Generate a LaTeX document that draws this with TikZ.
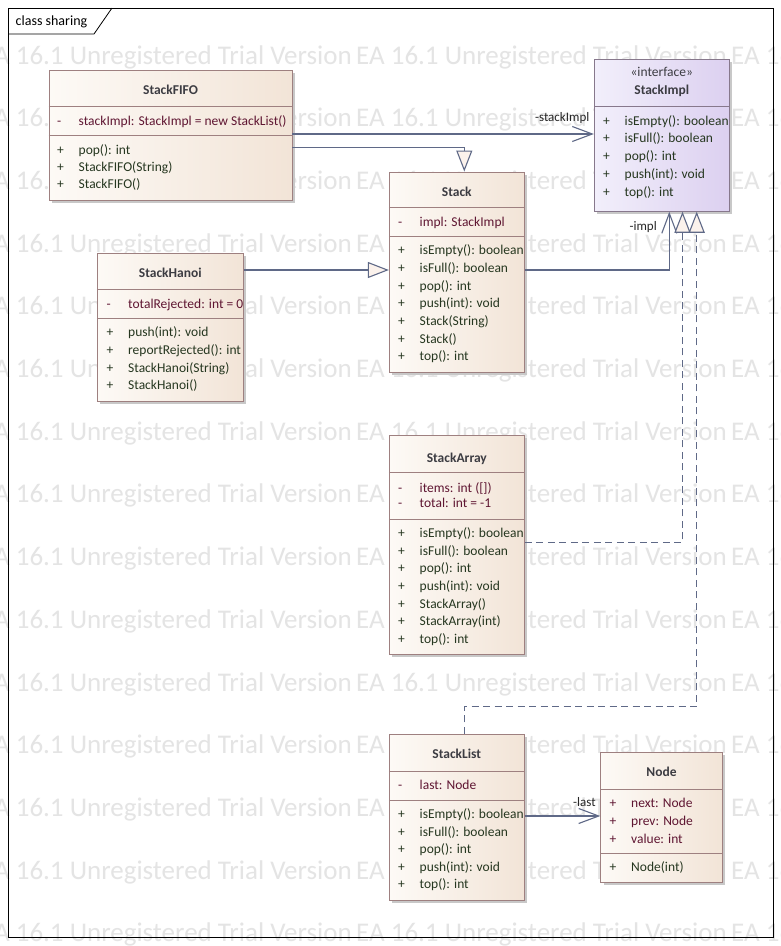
\documentclass[tikz,border=0pt]{standalone}
\usepackage{fontspec}
\setmainfont{Carlito}
\usetikzlibrary{arrows.meta,shadows,positioning}

\definecolor{umlline}{RGB}{95,105,135}
\definecolor{umlborder}{RGB}{158,128,128}
\definecolor{ifaceborder}{RGB}{135,120,140}
\definecolor{classleft}{RGB}{253,250,246}
\definecolor{classright}{RGB}{242,228,215}
\definecolor{ifaceleft}{RGB}{242,239,251}
\definecolor{ifaceright}{RGB}{220,208,240}
\definecolor{attrtext}{RGB}{95,22,50}
\definecolor{optext}{RGB}{38,55,32}
\definecolor{nametext}{RGB}{60,60,66}
\definecolor{tipfill}{RGB}{251,242,236}
\definecolor{shadowgray}{RGB}{200,200,200}
\definecolor{wmgray}{RGB}{228,228,228}

\newcommand\vis[1]{\makebox[21.5pt][l]{#1}}

\tikzset{
  umlclass/.style={draw=umlborder, line width=0.9pt, left color=classleft, right color=classright,
    inner sep=0pt, drop shadow={shadow xshift=3pt, shadow yshift=-3pt, fill=shadowgray, opacity=1}},
  umliface/.style={umlclass, draw=ifaceborder, left color=ifaceleft, right color=ifaceright},
  divider/.style={draw=umlborder, line width=0.9pt},
  clsname/.style={anchor=base, inner sep=0pt, text=nametext, font=\fontsize{13.5}{16}\selectfont\bfseries},
  stereo/.style={clsname, font=\fontsize{13.5}{16}\selectfont},
  attr/.style={anchor=base west, inner sep=0pt, text=attrtext, font=\fontsize{13.5}{16}\selectfont},
  oper/.style={attr, text=optext},
  assoc/.style={draw=umlline, line width=1.1pt, -{Straight Barb[length=20pt, width=15pt]}},
  gen/.style={draw=umlline, line width=1.1pt, -{Triangle[length=21pt, width=16pt, fill=tipfill]}},
  real/.style={gen, dash pattern=on 7pt off 4.5pt},
  edgelbl/.style={inner sep=0pt, text=black!85, font=\fontsize{13}{15}\selectfont},
  wmark/.style={anchor=base west, inner sep=0pt, text=wmgray, font=\fontsize{27}{30}\selectfont},
  frame/.style={draw=black, line width=0.8pt}
}

\begin{document}
\begin{tikzpicture}[x=1pt, y=-1pt]
  \useasboundingbox (0,0) rectangle (781,946);
  \clip (0,0) rectangle (781,946);
  \fill[white] (0,0) rectangle (781,946);

  % watermark rows
  \foreach \r in {0,...,14}
    \foreach \c in {0,1,2}
      \node[wmark] (wm-\r-\c) at (-19+375*\c, 64+62.7*\r) {EA 16.1 Unregistered Trial Version};

  % diagram frame
  \draw[frame] (8,8) rectangle (773,937);
  \draw[frame] (8,34) -- (94,34) -- (112,8);
  \node[anchor=base west, inner sep=0pt, font=\fontsize{14}{16}\selectfont] (frame-title) at (15.5,25.5) {class sharing};

  % StackFIFO
  \node[umlclass, minimum width=243pt, minimum height=130pt] (fifo) at (170.5,135) {};
  \node[clsname] (fifo-name) at (170.5,94.4) {StackFIFO};
  \draw[divider] (fifo.west |- 0,106.7) -- (fifo.east |- 0,106.7);
  \draw[divider] (fifo.west |- 0,135.3) -- (fifo.east |- 0,135.3);
  \node[attr] (fifo-a1) at (57,125.1) {\vis{-}stackImpl: StackImpl = new StackList()};
  \foreach \t [count=\i] in {pop(): int, StackFIFO(String), StackFIFO()}
    \node[oper] (fifo-o\i) at (57,136.7+17.4*\i) {\vis{+}\t};

  % Stack
  \node[umlclass, minimum width=135pt, minimum height=200pt] (stack) at (456.8,272) {};
  \node[clsname] (stack-name) at (456.8,196.1) {Stack};
  \draw[divider] (stack.west |- 0,207.7) -- (stack.east |- 0,207.7);
  \draw[divider] (stack.west |- 0,236.3) -- (stack.east |- 0,236.3);
  \node[attr] (stack-a1) at (398,226.1) {\vis{-}impl: StackImpl};
  \foreach \t [count=\i] in {isEmpty(): boolean, isFull(): boolean, pop(): int, push(int): void, Stack(String), Stack(), top(): int}
    \node[oper] (stack-o\i) at (398,237+17.7*\i) {\vis{+}\t};

  % StackImpl
  \node[umliface, minimum width=135pt, minimum height=152pt] (impl) at (661.8,135.3) {};
  \node[stereo] (impl-stereo) at (661.8,76.4) {«interface»};
  \node[clsname] (impl-name) at (661.8,94.4) {StackImpl};
  \draw[divider, draw=ifaceborder] (impl.west |- 0,106) -- (impl.east |- 0,106);
  \foreach \t [count=\i] in {isEmpty(): boolean, isFull(): boolean, pop(): int, push(int): void, top(): int}
    \node[oper] (impl-o\i) at (603,107.3+17.8*\i) {\vis{+}\t};

  % StackHanoi
  \node[umlclass, minimum width=146pt, minimum height=148.4pt] (hanoi) at (170.3,327.2) {};
  \node[clsname] (hanoi-name) at (170.3,277.7) {StackHanoi};
  \draw[divider] (hanoi.west |- 0,289.3) -- (hanoi.east |- 0,289.3);
  \draw[divider] (hanoi.west |- 0,318.3) -- (hanoi.east |- 0,318.3);
  \node[attr] (hanoi-a1) at (106.5,308.4) {\vis{-}totalRejected: int = 0};
  \foreach \t [count=\i] in {push(int): void, reportRejected(): int, StackHanoi(String), StackHanoi()}
    \node[oper] (hanoi-o\i) at (106.5,318.6+17.8*\i) {\vis{+}\t};

  % StackArray
  \node[umlclass, minimum width=135pt, minimum height=219pt] (array) at (456.8,544.5) {};
  \node[clsname] (array-name) at (456.8,462.1) {StackArray};
  \draw[divider] (array.west |- 0,472.3) -- (array.east |- 0,472.3);
  \draw[divider] (array.west |- 0,519) -- (array.east |- 0,519);
  \node[attr] (array-a1) at (398,492.1) {\vis{-}items: int ([])};
  \node[attr] (array-a2) at (398,507.9) {\vis{-}total: int = -1};
  \foreach \t [count=\i] in {isEmpty(): boolean, isFull(): boolean, pop(): int, push(int): void, StackArray(), StackArray(int), top(): int}
    \node[oper] (array-o\i) at (398,520.1+17.6*\i) {\vis{+}\t};

  % StackList
  \node[umlclass, minimum width=135pt, minimum height=165.7pt] (list) at (456.8,817.2) {};
  \node[clsname] (list-name) at (456.8,758.4) {StackList};
  \draw[divider] (list.west |- 0,771) -- (list.east |- 0,771);
  \draw[divider] (list.west |- 0,800) -- (list.east |- 0,800);
  \node[attr] (list-a1) at (398,789.4) {\vis{-}last: Node};
  \foreach \t [count=\i] in {isEmpty(): boolean, isFull(): boolean, pop(): int, push(int): void, top(): int}
    \node[oper] (list-o\i) at (398,801.2+17.5*\i) {\vis{+}\t};

  % Node
  \node[umlclass, minimum width=121.6pt, minimum height=130pt] (nodecls) at (661.5,817.3) {};
  \node[clsname] (nodecls-name) at (661.5,776.7) {Node};
  \draw[divider] (nodecls.west |- 0,789) -- (nodecls.east |- 0,789);
  \draw[divider] (nodecls.west |- 0,853.7) -- (nodecls.east |- 0,853.7);
  \foreach \t [count=\i] in {next: Node, prev: Node, value: int}
    \node[attr] (nodecls-a\i) at (609.5,789.1+18*\i) {\vis{+}\t};
  \node[oper] (nodecls-o1) at (609.5,871.1) {\vis{+}Node(int)};

  % connectors
  \draw[assoc] (fifo.east |- 0,134) -- (impl.west |- 0,134)
    node[edgelbl, above left=10pt and 4pt] (lbl-stackimpl) {-stackImpl};
  \draw[gen] (fifo.east |- 0,147.3) -| (stack.north -| 464.3,0);
  \draw[gen] (hanoi.east |- 0,270) -- (stack.west |- 0,270);
  \draw[assoc] (stack.east |- 0,270) -| (impl.south -| 669.3,0)
    node[edgelbl, below left=9pt and 12pt] (lbl-impl) {-impl};
  \draw[real] (array.east |- 0,542.7) -| (impl.south -| 682.5,0);
  \draw[real] (list.north -| 464.3,0) -- (464.3,706.6) -| (impl.south -| 696.7,0);
  \draw[assoc] (list.east |- 0,816) -- (nodecls.west |- 0,816)
    node[edgelbl, above left=9pt and 4pt] (lbl-last) {-last};
\end{tikzpicture}
\end{document}
